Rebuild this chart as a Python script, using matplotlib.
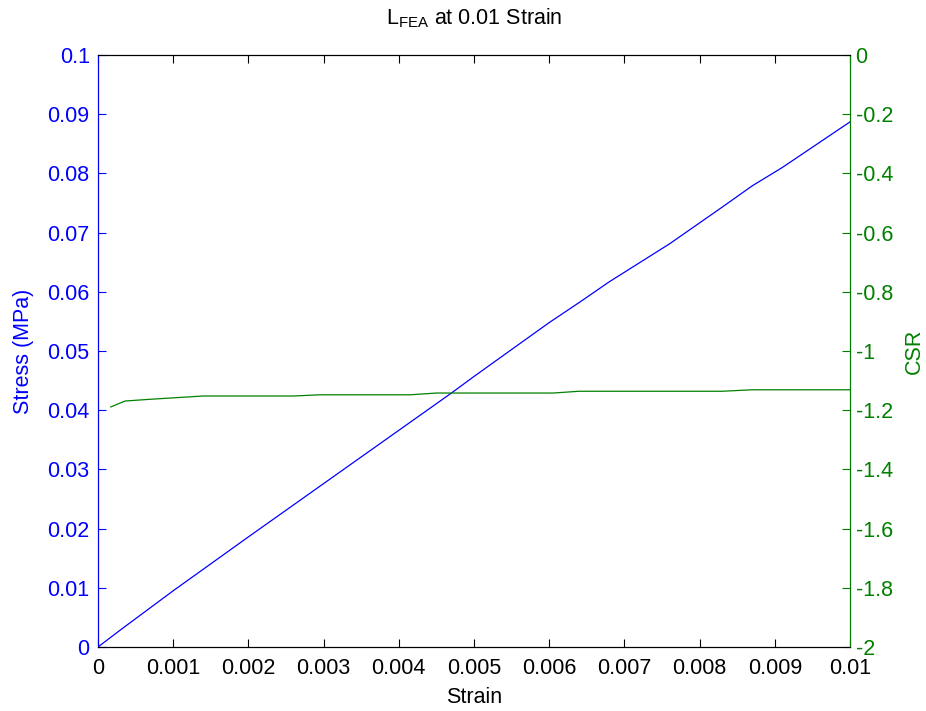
import matplotlib
matplotlib.use("Agg")
import matplotlib.pyplot as plt

plt.rcParams['font.family'] = ['Liberation Sans', 'DejaVu Sans']
plt.rcParams['mathtext.fontset'] = 'custom'
plt.rcParams['mathtext.rm'] = 'Liberation Sans'
plt.rcParams['mathtext.it'] = 'Liberation Sans'

# stress-strain curve (left axis)
strain_s = [0, 0.0003, 0.001, 0.002, 0.003, 0.004, 0.0047, 0.005, 0.006,
            0.0064, 0.0068, 0.0076, 0.0083, 0.0087, 0.0091, 0.01]
stress = [0, 0.0029, 0.0095, 0.0186, 0.0276, 0.0366, 0.0429, 0.0457, 0.0548,
          0.0582, 0.0617, 0.0681, 0.0743, 0.0779, 0.0810, 0.0887]

# CSR curve (right axis)
strain_c = [0.00017, 0.00036, 0.0007, 0.0014, 0.0026, 0.00295, 0.00415,
            0.0045, 0.00605, 0.0064, 0.0083, 0.0087, 0.01]
csr = [-1.189, -1.169, -1.163, -1.152, -1.152, -1.148, -1.148,
       -1.142, -1.142, -1.136, -1.136, -1.131, -1.131]

blue = '#0000ff'
green = '#008000'
fs = 15.5

fig = plt.figure(figsize=(9.26, 7.11), dpi=100)
ax = fig.add_axes([98 / 926, 1 - 647 / 711, 752 / 926, 592 / 711])
ax2 = ax.twinx()

ax.plot(strain_s, stress, color=blue, lw=0.9)
ax2.plot(strain_c, csr, color=green, lw=0.9)

ax.set_xlim(0, 0.01)
ax.set_ylim(0, 0.1)
ax2.set_ylim(-2, 0)

ax.set_xticks([i * 0.001 for i in range(11)])
ax.set_xticklabels(['0', '0.001', '0.002', '0.003', '0.004', '0.005',
                    '0.006', '0.007', '0.008', '0.009', '0.01'])
ax.set_yticks([i * 0.01 for i in range(11)])
ax.set_yticklabels(['0', '0.01', '0.02', '0.03', '0.04', '0.05',
                    '0.06', '0.07', '0.08', '0.09', '0.1'])
ax2.set_yticks([-2 + 0.2 * i for i in range(11)])
ax2.set_yticklabels(['-2', '-1.8', '-1.6', '-1.4', '-1.2', '-1',
                     '-0.8', '-0.6', '-0.4', '-0.2', '0'])

ax.tick_params(axis='x', direction='in', length=6, width=0.8, top=True,
               labelsize=fs, pad=8, colors='black')
ax.tick_params(axis='y', direction='in', length=6, width=0.8,
               labelsize=fs, colors=blue, pad=6)
ax2.tick_params(axis='y', direction='in', length=6, width=0.8,
                labelsize=fs, colors=green, pad=4)

for a in (ax, ax2):
    a.spines['left'].set_color(blue)
    a.spines['right'].set_color(green)
    a.spines['top'].set_color('black')
    a.spines['bottom'].set_color('black')
    for s in a.spines.values():
        s.set_linewidth(0.8)

ax.set_xlabel('Strain', fontsize=fs, labelpad=6)
ax.set_ylabel('Stress (MPa)', fontsize=fs, color=blue, labelpad=10)
ax2.set_ylabel('CSR', fontsize=fs, color=green, labelpad=8)
ax.set_title(r'$\mathregular{L_{FEA}}$ at 0.01 Strain', fontsize=fs, pad=22)

fig.savefig('out.png', dpi=100, facecolor='white')
